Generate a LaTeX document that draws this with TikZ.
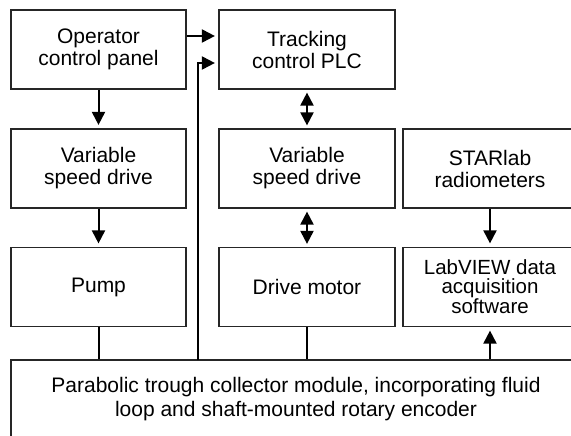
\documentclass[tikz,border=0pt]{standalone}
\usepackage{fontspec}
\setmainfont{Liberation Sans}
\usetikzlibrary{arrows.meta}
\begin{document}
\begin{tikzpicture}[x=1pt, y=-1pt, every node/.style={draw=black!85,line width=1.2pt,minimum height=79pt,inner sep=0pt,align=center,font=\fontsize{21}{22}\selectfont},
    arr/.style={line width=2pt,-{Triangle[length=13pt,width=13pt]},shorten >=3.5pt},
    darr/.style={line width=2pt,{Triangle[length=13pt,width=13pt]}-{Triangle[length=13pt,width=13pt]},shorten >=3pt,shorten <=3pt},
    link/.style={line width=2pt}]
  \useasboundingbox (0,0) rectangle (571,436);
  \clip (0,0) rectangle (571,436);
    \node [minimum width=175pt] (ocp) at (98.5,49.5) {Operator\\control panel};
  \node [minimum width=176pt] (plc) at (307,49.5) {Tracking\\control PLC};
  \node [minimum width=175pt] (vsdl) at (98.5,168.5) {Variable\\speed drive};
  \node [minimum width=176pt] (vsdm) at (307,168.5) {Variable\\speed drive};
  \node [minimum width=174pt] (star) at (490,168.5) {STARlab\\radiometers};
  \node [minimum width=175pt] (pump) at (98.5,287) {Pump};
  \node [minimum width=176pt] (drv) at (307,287) {Drive motor};
  \node [minimum width=174pt,font=\fontsize{20.5}{19}\selectfont] (lab) at (490,287) {LabVIEW data\\acquisition\\software};
  \node [minimum width=570pt,font=\fontsize{21}{24}\selectfont] (bot) at (296,399.5) {Parabolic trough collector module, incorporating fluid\\loop and shaft-mounted rotary encoder};
  \coordinate (enc) at (198,360);
    \draw [arr] ([yshift=13.5pt]ocp.east) -- ([yshift=13.5pt]plc.west);
  \draw [arr] (enc) |- ([yshift=-13.5pt]plc.west);
  \draw [arr] (ocp) -- (vsdl);
  \draw [arr] (vsdl) -- (pump);
  \draw [link] (pump.south) -- (pump.south |- bot.north);
    \draw [darr] (plc) -- (vsdm);
  \draw [darr] (vsdm) -- (drv);
  \draw [link] (drv.south) -- (drv.south |- bot.north);
    \draw [arr] (star) -- (lab);
  \draw [arr] (lab.south |- bot.north) -- (lab.south);
\end{tikzpicture}
\end{document}
